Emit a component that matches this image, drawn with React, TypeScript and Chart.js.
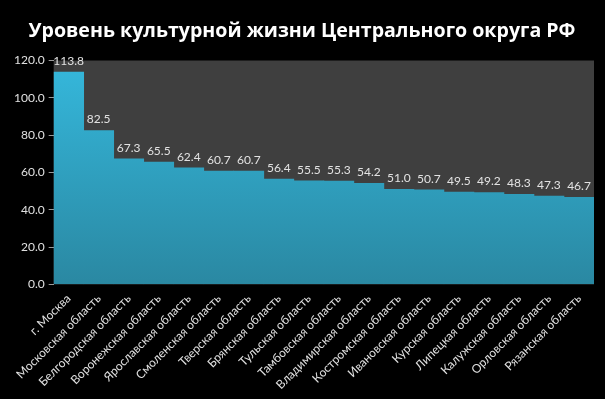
import { useEffect, useRef } from "react";
import { Chart, registerables } from "chart.js";

Chart.register(...registerables);

const titleText = "Уровень культурной жизни Центрального округа РФ";
const categories = [
  "г. Москва",
  "Московская область",
  "Белгородская область",
  "Воронежская область",
  "Ярославская область",
  "Смоленская область",
  "Тверская область",
  "Брянская область",
  "Тульская область",
  "Тамбовская область",
  "Владимирская область",
  "Костромская область",
  "Ивановская область",
  "Курская область",
  "Липецкая область",
  "Калужская область",
  "Орловская область",
  "Рязанская область",
];
const values = [113.8, 82.5, 67.3, 65.5, 62.4, 60.7, 60.7, 56.4, 55.5, 55.3, 54.2, 51.0, 50.7, 49.5, 49.2, 48.3, 47.3, 46.7];
const yMin = 0;
const yMax = 120;
const yStep = 20;

const bgPlugin = {
  id: "areaBg",
  beforeDraw(chart: any) {
    const { ctx, chartArea } = chart;
    ctx.save();
    ctx.fillStyle = "#000000";
    ctx.fillRect(0, 0, chart.width, chart.height);
    ctx.fillStyle = "#3f3f3f";
    ctx.fillRect(chartArea.left, chartArea.top, chartArea.right - chartArea.left, chartArea.bottom - chartArea.top);
    ctx.restore();
  },
};

const labelPlugin = {
  id: "valLabels",
  afterDatasetsDraw(chart: any) {
    const { ctx } = chart;
    const meta = chart.getDatasetMeta(0);
    ctx.save();
    ctx.font = "12px Lato";
    ctx.fillStyle = "#e2e2e2";
    ctx.textAlign = "center";
    ctx.textBaseline = "bottom";
    meta.data.forEach((bar: any, i: number) => {
      ctx.fillText(values[i].toFixed(1), bar.x, bar.y - 5);
    });
    ctx.restore();
  },
};

export default function App() {
  const ref = useRef<HTMLCanvasElement | null>(null);
  useEffect(() => {
    document.body.style.margin = "0";
    document.body.style.background = "#000";
    const canvas = ref.current!;
    const chart = new Chart(canvas, {
      type: "bar",
      data: {
        labels: categories,
        datasets: [
          {
            data: values,
            barPercentage: 1,
            categoryPercentage: 1,
            borderWidth: 0,
            backgroundColor: (c: any) => {
              const area = c.chart.chartArea;
              if (!area) return "#2fa8cc";
              const g = c.chart.ctx.createLinearGradient(0, area.top, 0, area.bottom);
              g.addColorStop(0, "#35b8dc");
              g.addColorStop(1, "#2a88a2");
              return g;
            },
          },
        ],
      },
      options: {
        animation: false,
        responsive: false,
        maintainAspectRatio: false,
        layout: { padding: { left: 10, right: 11, top: 0, bottom: 0 } },
        plugins: {
          legend: { display: false },
          tooltip: { enabled: false },
          title: {
            display: true,
            text: titleText,
            color: "#ffffff",
            font: { family: "Open Sans", size: 19.6, weight: "bold" },
            padding: { top: 20, bottom: 17 },
          },
        },
        scales: {
          x: {
            grid: { display: false, drawTicks: false },
            border: { display: false },
            ticks: {
              color: "#e0e0e0",
              font: { family: "Lato", size: 12 },
              minRotation: 45,
              maxRotation: 45,
              autoSkip: false,
              padding: 7,
            },
          },
          y: {
            min: yMin,
            max: yMax,
            grid: { drawOnChartArea: false, drawTicks: true, tickLength: 5, color: "#9a9a9a" },
            border: { display: false },
            ticks: {
              stepSize: yStep,
              color: "#e0e0e0",
              font: { family: "Lato", size: 12 },
              padding: 4,
              callback: (v: any) => Number(v).toFixed(1),
            },
          },
        },
      },
      plugins: [bgPlugin, labelPlugin],
    } as any);
    return () => chart.destroy();
  }, []);
  return (
    <div style={{ width: 605, height: 399, background: "#000" }}>
      <canvas ref={ref} width={605} height={399} style={{ display: "block" }} />
    </div>
  );
}
